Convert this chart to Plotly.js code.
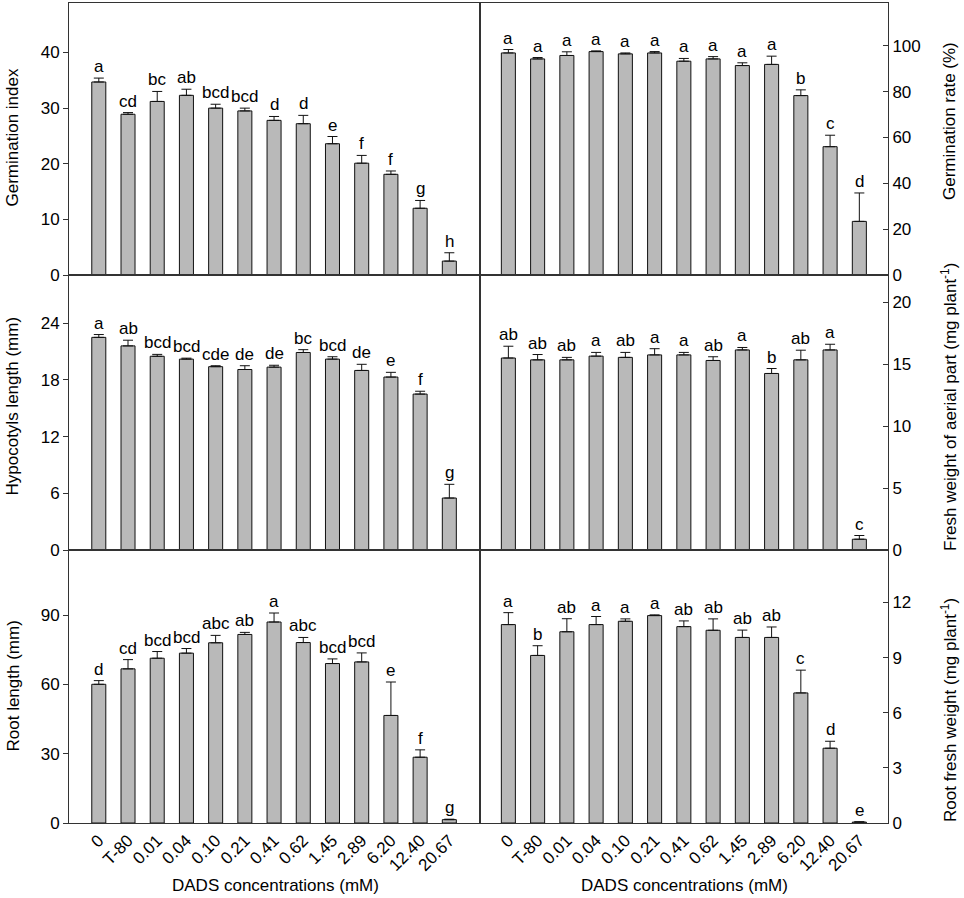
<!DOCTYPE html>
<html>
<head>
<meta charset="utf-8">
<script src="https://cdn.plot.ly/plotly-3.0.1.min.js"></script>
<style>
    body { margin: 0; background: #fff; }
    #grafico { width: 964px; height: 898px; }
</style>
</head>
<body>
<div id="grafico"></div>
<script>
const concentraciones = ["0", "T-80", "0.01", "0.04", "0.10", "0.21", "0.41", "0.62", "1.45", "2.89", "6.20", "12.40", "20.67"];

const germIndex = [34.7, 28.9, 31.2, 32.3, 30.0, 29.5, 27.8, 27.2, 23.6, 20.1, 18.1, 12.0, 2.5];
const germIndexErr = [0.7, 0.3, 1.8, 1.1, 0.7, 0.5, 0.7, 1.5, 1.3, 1.4, 0.6, 1.4, 1.5];
const germIndexLetras = ["a", "cd", "bc", "ab", "bcd", "bcd", "d", "d", "e", "f", "f", "g", "h"];

const germRate = [96.9, 94.3, 95.8, 97.5, 96.5, 96.9, 93.3, 94.3, 91.4, 91.9, 78.3, 56.0, 23.4];
const germRateErr = [1.5, 0.6, 1.6, 0.3, 0.4, 0.6, 1.2, 1.0, 1.2, 3.6, 2.5, 5.0, 12.4];
const germRateLetras = ["a", "a", "a", "a", "a", "a", "a", "a", "a", "a", "b", "c", "d"];

const hipocotilo = [22.5, 21.6, 20.5, 20.2, 19.4, 19.1, 19.35, 20.9, 20.2, 19.0, 18.3, 16.5, 5.5];
const hipocotiloErr = [0.3, 0.6, 0.2, 0.1, 0.1, 0.4, 0.2, 0.3, 0.25, 0.65, 0.5, 0.3, 1.45];
const hipocotiloLetras = ["a", "ab", "bcd", "bcd", "cde", "de", "de", "bc", "bcd", "de", "e", "f", "g"];

const pesoAereo = [15.5, 15.35, 15.35, 15.65, 15.55, 15.75, 15.75, 15.3, 16.15, 14.25, 15.35, 16.15, 0.87];
const pesoAereoErr = [0.95, 0.43, 0.2, 0.3, 0.4, 0.5, 0.2, 0.3, 0.2, 0.4, 0.78, 0.46, 0.3];
const pesoAereoLetras = ["ab", "ab", "ab", "a", "ab", "a", "a", "ab", "a", "b", "ab", "a", "c"];

const raizLongitud = [60.1, 66.8, 71.4, 73.6, 78.1, 81.7, 87.1, 78.2, 69.1, 69.8, 46.6, 28.5, 1.45];
const raizLongitudErr = [1.6, 4.0, 2.9, 2.0, 3.2, 0.9, 3.9, 2.2, 2.0, 3.9, 14.5, 3.2, 0.2];
const raizLongitudLetras = ["d", "cd", "bcd", "bcd", "abc", "ab", "a", "abc", "bcd", "bcd", "e", "f", "g"];

const raizPeso = [10.8, 9.12, 10.41, 10.8, 10.98, 11.29, 10.69, 10.49, 10.1, 10.1, 7.08, 4.07, 0.05];
const raizPesoErr = [0.65, 0.53, 0.71, 0.44, 0.13, 0.04, 0.31, 0.62, 0.4, 0.57, 1.24, 0.38, 0.02];
const raizPesoLetras = ["a", "b", "ab", "a", "a", "a", "ab", "ab", "ab", "ab", "c", "d", "e"];

const W = 964, H = 898;
const fuente = { family: "Liberation Sans, Arial, sans-serif", size: 17, color: "#000" };

const paneles = [
    { y: germIndex, err: germIndexErr, letras: germIndexLetras, n: "", rango: [0, 48.9], dtick: 10, lado: "left", fila: 0 },
    { y: germRate, err: germRateErr, letras: germRateLetras, n: "2", rango: [0, 118.7], dtick: 20, lado: "right", fila: 0 },
    { y: hipocotilo, err: hipocotiloErr, letras: hipocotiloLetras, n: "3", rango: [0, 29.1], dtick: 6, lado: "left", fila: 1 },
    { y: pesoAereo, err: pesoAereoErr, letras: pesoAereoLetras, n: "4", rango: [0, 22.2], dtick: 5, lado: "right", fila: 1 },
    { y: raizLongitud, err: raizLongitudErr, letras: raizLongitudLetras, n: "5", rango: [0, 118.3], dtick: 30, lado: "left", fila: 2 },
    { y: raizPeso, err: raizPesoErr, letras: raizPesoLetras, n: "6", rango: [0, 14.86], dtick: 3, lado: "right", fila: 2 }
];

// filas en pixeles (arriba, abajo)
const filas = [[3, 275], [275, 550], [550, 823]];
const columnas = { left: [69, 480], right: [480, 888] };

const trazas = [];
const anotaciones = [];
const layout = {
    width: W,
    height: H,
    margin: { l: 0, r: 0, t: 0, b: 0 },
    paper_bgcolor: "#fff",
    plot_bgcolor: "rgba(0,0,0,0)",
    showlegend: false,
    bargap: 0.52,
    font: fuente
};

paneles.forEach(function (p) {
    const ejeX = "x" + p.n, ejeY = "y" + p.n;
    trazas.push({
        type: "bar",
        x: concentraciones,
        y: p.y,
        xaxis: ejeX,
        yaxis: ejeY,
        marker: { color: "#b9b9b9", line: { color: "#111", width: 1 } },
        error_y: {
            type: "data", symmetric: false, array: p.err,
            arrayminus: p.y.map(() => 0),
            color: "#111", thickness: 1, width: 5
        },
        hoverinfo: "skip"
    });

    // letras de significancia sobre cada barra (x = indice de categoria)
    p.letras.forEach(function (l, i) {
        anotaciones.push({
            xref: ejeX, yref: ejeY,
            x: i, y: p.y[i] + p.err[i],
            text: l, showarrow: false,
            xanchor: "center", yanchor: "bottom",
            font: fuente
        });
    });

    const col = columnas[p.lado];
    const fila = filas[p.fila];
    const abajo = p.fila === 2;
    layout["xaxis" + p.n] = {
        type: "category",
        domain: [col[0] / W, col[1] / W],
        anchor: ejeY,
        range: p.lado === "left" ? [-1.02, 13.05] : [-0.97, 12.98],
        showline: true, linecolor: "#333", linewidth: 1, mirror: true,
        ticks: "",
        showticklabels: abajo,
        tickangle: -45,
        tickfont: fuente,
        showgrid: false, zeroline: false, fixedrange: true
    };
    layout["yaxis" + p.n] = {
        domain: [1 - fila[1] / H, 1 - fila[0] / H],
        anchor: ejeX,
        side: p.lado,
        range: p.rango,
        dtick: p.dtick,
        tick0: 0,
        showline: true, linecolor: "#333", linewidth: 1, mirror: true,
        ticks: p.lado === "left" ? "outside" : "inside",
        ticklen: 5, tickcolor: "#333",
        tickfont: fuente,
        showgrid: false, zeroline: false, fixedrange: true
    };
});

// titulos de ejes
const titulos = [
    { t: "Germination index", x: 12.5, y: 138 },
    { t: "Hypocotyls length (mm)", x: 12.5, y: 406 },
    { t: "Root length (mm)", x: 12.5, y: 686 },
    { t: "Germination rate (%)", x: 949, y: 121 },
    { t: "Fresh weight of aerial part (mg plant<sup>-1</sup>)", x: 949, y: 407 },
    { t: "Root fresh weight (mg plant<sup>-1</sup>)", x: 949, y: 710 }
];
titulos.forEach(function (t) {
    anotaciones.push({
        xref: "paper", yref: "paper",
        x: t.x / W, y: 1 - t.y / H,
        text: t.t, textangle: -90, showarrow: false,
        xanchor: "center", yanchor: "middle",
        font: fuente
    });
});
[275, 684].forEach(function (cx) {
    anotaciones.push({
        xref: "paper", yref: "paper",
        x: cx / W, y: 1 - 885 / H,
        text: "DADS concentrations (mM)", showarrow: false,
        xanchor: "center", yanchor: "middle",
        font: fuente
    });
});

layout.annotations = anotaciones;

Plotly.newPlot("grafico", trazas, layout, { displayModeBar: false, staticPlot: true });
</script>
</body>
</html>
